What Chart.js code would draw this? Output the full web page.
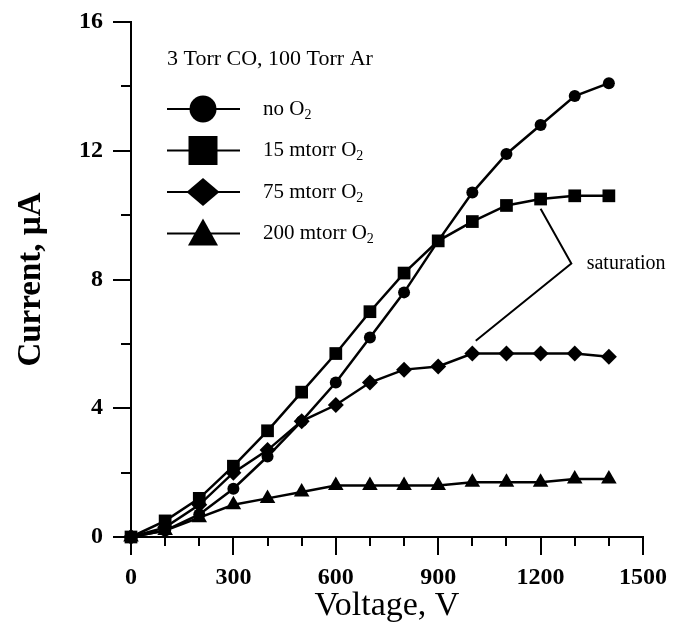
<!DOCTYPE html>
<html>
<head>
<meta charset="utf-8">
<title>Current vs voltage</title>
<script src="https://cdn.jsdelivr.net/npm/chart.js@4.4.0/dist/chart.umd.min.js"></script>
<style>
  body { margin: 0; background: #fff; }
  #wrap { width: 690px; height: 637px; }
</style>
</head>
<body>
<div id="wrap"><canvas id="ivChart" width="690" height="637"></canvas></div>
<script>
// measured discharge current, uA, vs. applied voltage
var voltage = [0, 100, 200, 300, 400, 500, 600, 700, 800, 900, 1000, 1100, 1200, 1300, 1400];
var noO2    = [0, 0.2, 0.7, 1.5, 2.5, 3.6, 4.8, 6.2, 7.6, 9.2, 10.7, 11.9, 12.8, 13.7, 14.1];
var o2_15   = [0, 0.5, 1.2, 2.2, 3.3, 4.5, 5.7, 7.0, 8.2, 9.2, 9.8, 10.3, 10.5, 10.6, 10.6];
var o2_75   = [0, 0.3, 1.0, 2.0, 2.7, 3.6, 4.1, 4.8, 5.2, 5.3, 5.7, 5.7, 5.7, 5.7, 5.6];
var o2_200  = [0, 0.2, 0.6, 1.0, 1.2, 1.4, 1.6, 1.6, 1.6, 1.6, 1.7, 1.7, 1.7, 1.8, 1.8];

var seriesNames = ['no O', '15 mtorr O', '75 mtorr O', '200 mtorr O'];
var xTickLabels = [0, 300, 600, 900, 1200, 1500];
var yTickLabels = [0, 4, 8, 12, 16];
var xMinorStep = 100;
var yMinorStep = 2;

// bracket pointing at the flat parts of the 15 and 75 mtorr curves
var saturationPath = [[1200, 10.2], [1290, 8.5], [1010, 6.1]];
var saturationText = [1335, 8.5];

var serif = "'Liberation Serif', 'Times New Roman', serif";

function pts(ys) {
  return voltage.map(function (v, i) { return { x: v, y: ys[i] }; });
}

function series(label, ys, style, r) {
  return {
    label: label,
    data: pts(ys),
    borderColor: '#000',
    backgroundColor: '#000',
    borderWidth: 2.5,
    pointStyle: style,
    pointRadius: r,
    pointHoverRadius: r,
    pointBorderWidth: 0,
    tension: 0,
    clip: false
  };
}

// own marker drawing for the legend (bigger than the plot markers)
function marker(ctx, style, x, y, s) {
  ctx.beginPath();
  if (style === 'circle') {
    ctx.arc(x, y, s, 0, Math.PI * 2);
  } else if (style === 'rect') {
    ctx.rect(x - s, y - s, s * 2, s * 2);
  } else if (style === 'rectRot') {
    ctx.moveTo(x - s, y); ctx.lineTo(x, y - s * 0.85);
    ctx.lineTo(x + s, y); ctx.lineTo(x, y + s * 0.85);
  } else {
    ctx.moveTo(x, y - s); ctx.lineTo(x + s, y + s * 0.8); ctx.lineTo(x - s, y + s * 0.8);
  }
  ctx.closePath();
  ctx.fill();
}

var minorTicks = {
  id: 'minorTicks',
  afterDraw: function (chart) {
    var ctx = chart.ctx, a = chart.chartArea, x = chart.scales.x, y = chart.scales.y;
    ctx.save();
    ctx.strokeStyle = '#000';
    ctx.lineWidth = 2;
    ctx.beginPath();
    for (var v = x.min; v <= x.max; v += xMinorStep) {
      var px = Math.round(x.getPixelForValue(v));
      var len = xTickLabels.indexOf(v) >= 0 ? 18 : 9;
      ctx.moveTo(px, a.bottom); ctx.lineTo(px, a.bottom + len);
    }
    for (var w = y.min; w <= y.max; w += yMinorStep) {
      var py = Math.round(y.getPixelForValue(w));
      var l2 = yTickLabels.indexOf(w) >= 0 ? 18 : 10;
      ctx.moveTo(a.left, py); ctx.lineTo(a.left - l2, py);
    }
    ctx.stroke();
    ctx.restore();
  }
};

var legendBox = {
  id: 'legendBox',
  afterDraw: function (chart) {
    var ctx = chart.ctx, a = chart.chartArea;
    var styles = ['circle', 'rect', 'rectRot', 'triangle'];
    var sizes = [13.5, 14.5, 16.5, 15];
    ctx.save();
    ctx.fillStyle = '#000';
    ctx.strokeStyle = '#000';
    ctx.textBaseline = 'middle';
    ctx.textAlign = 'left';
    ctx.font = '22px ' + serif;
    ctx.fillText('3 Torr CO, 100 Torr Ar', a.left + 36, a.top + 37);
    for (var i = 0; i < styles.length; i++) {
      var cy = a.top + 87 + i * 41.5;
      ctx.lineWidth = 2;
      ctx.beginPath();
      ctx.moveTo(a.left + 36, cy); ctx.lineTo(a.left + 109, cy);
      ctx.stroke();
      marker(ctx, styles[i], a.left + 72, cy, sizes[i]);
      ctx.font = '21px ' + serif;
      var tx = a.left + 132;
      ctx.fillText(seriesNames[i], tx, cy);
      var wdt = ctx.measureText(seriesNames[i]).width;
      ctx.font = '14px ' + serif;
      ctx.fillText('2', tx + wdt, cy + 6);
    }
    ctx.restore();
  }
};

var saturationNote = {
  id: 'saturationNote',
  afterDraw: function (chart) {
    var ctx = chart.ctx, x = chart.scales.x, y = chart.scales.y;
    ctx.save();
    ctx.strokeStyle = '#000';
    ctx.lineWidth = 2;
    ctx.beginPath();
    saturationPath.forEach(function (p, i) {
      var px = x.getPixelForValue(p[0]), py = y.getPixelForValue(p[1]);
      if (i === 0) ctx.moveTo(px, py); else ctx.lineTo(px, py);
    });
    ctx.stroke();
    ctx.fillStyle = '#000';
    ctx.font = '20px ' + serif;
    ctx.textBaseline = 'middle';
    ctx.fillText('saturation', x.getPixelForValue(saturationText[0]), y.getPixelForValue(saturationText[1]));
    ctx.restore();
  }
};

new Chart(document.getElementById('ivChart'), {
  type: 'line',
  data: {
    datasets: [
      series('no O2', noO2, 'circle', 6),
      series('15 mtorr O2', o2_15, 'rect', 9),
      series('75 mtorr O2', o2_75, 'rectRot', 8),
      series('200 mtorr O2', o2_200, 'triangle', 9)
    ]
  },
  options: {
    responsive: false,
    animation: false,
    events: [],
    layout: { autoPadding: false, padding: { top: 22, right: 47, left: 0, bottom: 0 } },
    plugins: { legend: { display: false }, tooltip: { enabled: false } },
    scales: {
      x: {
        type: 'linear',
        min: 0,
        max: 1500,
        afterFit: function (s) { s.height = 100; s.paddingLeft = 0; s.paddingRight = 0; },
        afterBuildTicks: function (s) { s.ticks = xTickLabels.map(function (v) { return { value: v }; }); },
        grid: { drawOnChartArea: false, drawTicks: false },
        border: { display: true, color: '#000', width: 2 },
        ticks: {
          color: '#000', padding: 26, maxRotation: 0,
          callback: function (v) { return String(v); },
          font: { family: serif, size: 24, weight: 'bold' }
        },
        title: { display: true, text: 'Voltage, V', color: '#000', padding: { top: 0, bottom: 11 }, font: { family: serif, size: 34 } }
      },
      y: {
        min: 0,
        max: 16,
        afterFit: function (s) { s.width = 131; s.paddingTop = 0; s.paddingBottom = 0; },
        afterBuildTicks: function (s) { s.ticks = yTickLabels.map(function (v) { return { value: v }; }); },
        grid: { drawOnChartArea: false, drawTicks: false },
        border: { display: true, color: '#000', width: 2 },
        ticks: { color: '#000', padding: 28, font: { family: serif, size: 24, weight: 'bold' } },
        title: { display: true, text: 'Current, µA', color: '#000', padding: { top: 12, bottom: 0 }, font: { family: serif, size: 33, weight: 'bold' } }
      }
    }
  },
  plugins: [minorTicks, legendBox, saturationNote]
});
</script>
</body>
</html>
